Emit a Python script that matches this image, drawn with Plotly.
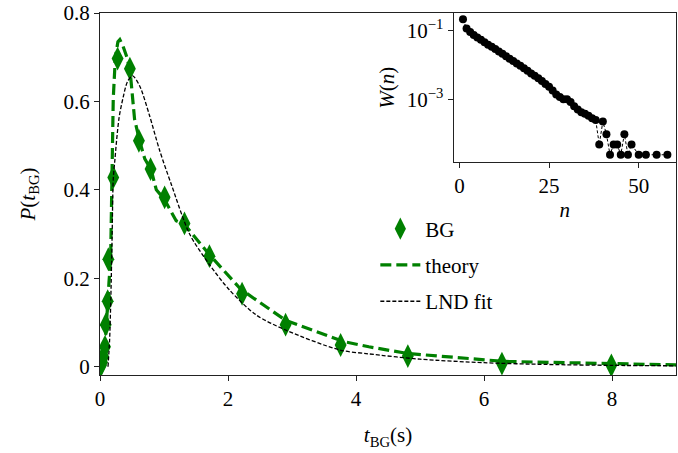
import plotly.graph_objects as go

# ---- main panel data ----
bg_t = [0.015, 0.03, 0.05, 0.078, 0.089, 0.12, 0.13, 0.207, 0.275, 0.467, 0.608,
        0.79, 1.01, 1.32, 1.71, 2.22, 2.9, 3.76, 4.81, 6.28, 7.99]
bg_p = [0.003, 0.01, 0.023, 0.045, 0.095, 0.148, 0.243, 0.428, 0.697, 0.674, 0.511,
        0.447, 0.383, 0.324, 0.25, 0.165, 0.095, 0.049, 0.024, 0.007, 0.003]

theory_t = [0.06, 0.10, 0.14, 0.166, 0.185, 0.207, 0.24, 0.28, 0.31, 0.36, 0.42, 0.47,
            0.54, 0.62, 0.70, 0.80, 0.88, 1.0, 1.19, 1.32, 1.7, 2.2, 2.9, 3.8, 4.2,
            4.8, 6.3, 8.0, 9.0]
theory_p = [0.0, 0.11, 0.19, 0.243, 0.40, 0.606, 0.70, 0.735, 0.74, 0.725, 0.70, 0.67,
            0.56, 0.51, 0.47, 0.445, 0.40, 0.38, 0.33, 0.322, 0.255, 0.175, 0.105, 0.057,
            0.045, 0.03, 0.012, 0.006, 0.004]

lnd_t = [0.125, 0.15, 0.17, 0.19, 0.207, 0.234, 0.26, 0.30, 0.363, 0.43, 0.51, 0.62,
         0.77, 0.93, 1.12, 1.4, 1.71, 2.02, 2.44, 2.9, 3.74, 4.2, 5.0, 6.0, 7.0, 8.0, 9.0]
lnd_p = [0.0, 0.06, 0.16, 0.30, 0.424, 0.47, 0.513, 0.565, 0.61, 0.645, 0.658, 0.635,
         0.57, 0.49, 0.41, 0.30, 0.231, 0.174, 0.117, 0.083, 0.038, 0.029, 0.017, 0.009,
         0.005, 0.003, 0.002]

# ---- inset data ----
inset_n = list(range(1, 49)) + [50, 52, 55, 58]
inset_w = [0.219, 0.1175, 0.0933, 0.0759, 0.0646, 0.0550, 0.0468, 0.0398, 0.0347, 0.0295,
           0.0251, 0.0214, 0.0182, 0.0155, 0.0132, 0.0112, 0.00955, 0.00813, 0.00692,
           0.00575, 0.00490, 0.00417, 0.00347, 0.00282, 0.00234, 0.00182, 0.00138,
           0.00117, 0.00100, 0.00100, 0.000832, 0.000631, 0.000501, 0.000417, 0.000380,
           0.000331, 0.000282, 0.000251, 4.8e-5, 0.000224, 9.6e-5, 2.4e-5, 4.8e-5, 4.8e-5,
           2.4e-5, 9.6e-5, 2.4e-5, 4.8e-5, 2.4e-5, 2.4e-5, 2.4e-5, 2.4e-5]

main_xticks = [0, 2, 4, 6, 8]
main_yticks = [0, 0.2, 0.4, 0.6, 0.8]
main_yticklabels = ["0", "0.2", "0.4", "0.6", "0.8"]
inset_xticks = [0, 25, 50]
inset_yticks = [1e-1, 1e-3]
inset_yticklabels = ["10<sup>−1</sup>", "10<sup>−3</sup>"]

GREEN = "#008000"
FONT = "Liberation Serif, DejaVu Serif, serif"

fig = go.Figure()
fig.add_trace(go.Scatter(x=bg_t, y=bg_p, mode="markers", name="BG",
                         marker=dict(symbol="diamond-tall", size=17, color=GREEN,
                                     line=dict(width=0)),
                         legendgroup="a"))
fig.add_trace(go.Scatter(x=theory_t, y=theory_p, mode="lines", name="theory",
                         line=dict(color=GREEN, width=3.2, dash="11px,5px"),
                         legendgroup="b"))
fig.add_trace(go.Scatter(x=lnd_t, y=lnd_p, mode="lines", name="LND fit",
                         line=dict(color="black", width=1.3, dash="4px,2px",
                                   shape="spline", smoothing=0.8),
                         legendgroup="c"))
fig.add_trace(go.Scatter(x=inset_n, y=inset_w, mode="lines+markers", showlegend=False,
                         xaxis="x2", yaxis="y2",
                         line=dict(color="black", width=1, dash="3px,2px"),
                         marker=dict(symbol="circle", size=8, color="black")))

axis_common = dict(showline=True, linecolor="#222", linewidth=1, mirror=True,
                   ticks="outside", ticklen=5, tickcolor="#222", showgrid=False,
                   zeroline=False, automargin=False,
                   tickfont=dict(family=FONT, size=21, color="black"))

fig.update_layout(
    width=678, height=453, autosize=False,
    margin=dict(l=100, r=2, t=13, b=78),
    paper_bgcolor="white", plot_bgcolor="white",
    font=dict(family=FONT, size=21, color="black"),
    xaxis=dict(range=[0, 9], tickvals=main_xticks, domain=[0, 1],
               title=dict(text="<i>t</i><sub>BG</sub>(s)", standoff=17,
                          font=dict(family=FONT, size=21)),
               **axis_common),
    yaxis=dict(range=[-0.0188, 0.8], tickvals=main_yticks, ticktext=main_yticklabels,
               domain=[0, 1],
               title=dict(text="<i>P</i>(<i>t</i><sub>BG</sub>)", standoff=22,
                          font=dict(family=FONT, size=21)),
               **axis_common),
    xaxis2=dict(range=[-1.6, 60.4], tickvals=inset_xticks, domain=[0.614, 1.0],
                anchor="y2",
                title=dict(text="<i>n</i>", standoff=4, font=dict(family=FONT, size=21)),
                **axis_common),
    yaxis2=dict(type="log", range=[-4.84, -0.475], tickvals=inset_yticks,
                ticktext=inset_yticklabels, domain=[0.5876, 1.0], anchor="x2",
                title=dict(text="<i>W</i>(<i>n</i>)", standoff=6,
                           font=dict(family=FONT, size=21)),
                **axis_common),
    legend=dict(x=0.478, y=0.46, xanchor="left", yanchor="top",
                bgcolor="rgba(255,255,255,0)", font=dict(family=FONT, size=21),
                tracegroupgap=6, itemwidth=40),
    showlegend=True,
)

fig.write_html("out.html", config={"displayModeBar": False},
               post_script="document.body.style.margin='0';"
                           "document.body.style.overflow='hidden';")
